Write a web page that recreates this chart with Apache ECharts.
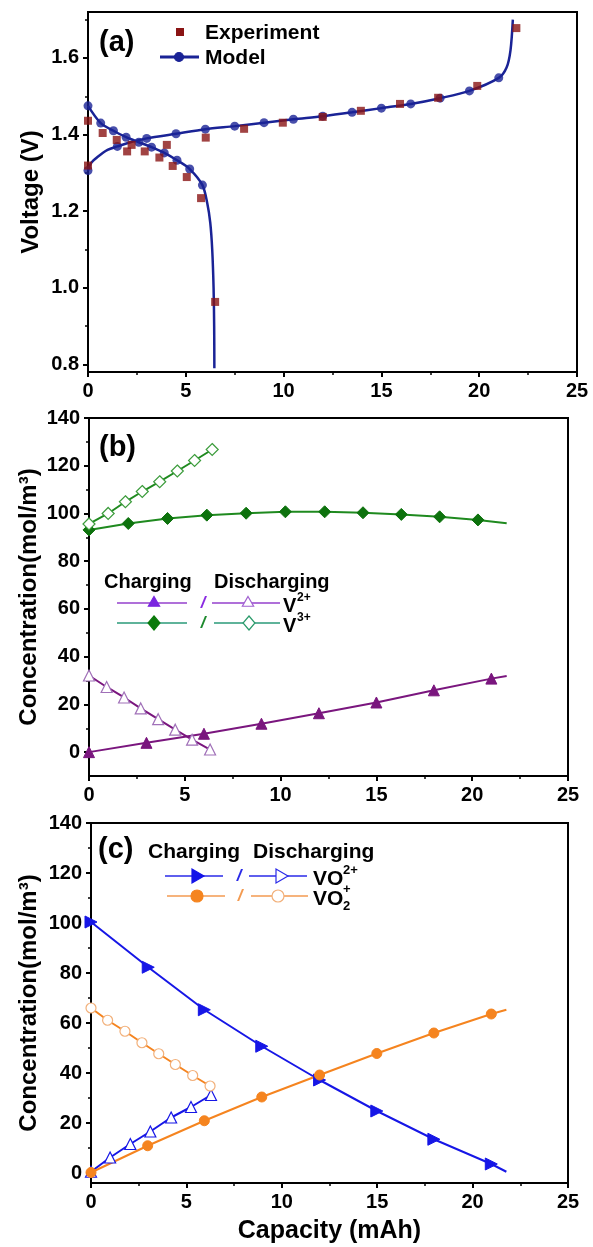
<!DOCTYPE html>
<html><head><meta charset="utf-8">
<script src="https://cdn.jsdelivr.net/npm/echarts@6/dist/echarts.min.js"></script>
<style>html,body{margin:0;padding:0;background:#fff}#c{width:593px;height:1247px}</style>
</head><body><div id="c"></div>
<script>
// ---------- Panel (a): voltage ----------
const expX = [0, 0, 0.75, 1.47, 2.0, 2.23, 2.9, 3.65, 4.03, 4.33, 5.05, 5.78, 6.5, 6.02, 7.98, 9.96, 12.0, 13.95, 15.95, 17.9, 19.9, 21.9];
const expV = [1.436, 1.319, 1.404, 1.386, 1.356, 1.373, 1.356, 1.34, 1.373, 1.318, 1.289, 1.234, 0.963, 1.392, 1.415, 1.431, 1.446, 1.462, 1.48, 1.496, 1.527, 1.678];
const modelChgCurveX = [0, 0.15, 0.5, 1.0, 1.5, 2.25, 3, 4.5, 6, 7.5, 9, 10.5, 12, 13.5, 15, 16.5, 18, 19.5, 21, 21.4, 21.6, 21.72];
const modelChgCurveV = [1.306, 1.325, 1.342, 1.36, 1.369, 1.381, 1.39, 1.402, 1.414, 1.422, 1.431, 1.44, 1.448, 1.458, 1.469, 1.48, 1.495, 1.514, 1.548, 1.575, 1.62, 1.70];
const modelChgMarkX = [0, 1.5, 3, 4.5, 6, 7.5, 9, 10.5, 12, 13.5, 15, 16.5, 18, 19.5, 21];
const modelChgMarkV = [1.306, 1.369, 1.39, 1.402, 1.414, 1.422, 1.431, 1.44, 1.448, 1.458, 1.469, 1.48, 1.495, 1.514, 1.548];
const modelDisCurveX = [0, 0.65, 1.3, 1.95, 2.6, 3.25, 3.9, 4.55, 5.2, 5.85, 6.1, 6.25, 6.35, 6.42, 6.45, 6.46];
const modelDisCurveV = [1.475, 1.43, 1.41, 1.393, 1.38, 1.367, 1.352, 1.333, 1.31, 1.268, 1.22, 1.17, 1.1, 1.0, 0.9, 0.79];
const modelDisMarkX = [0, 0.65, 1.3, 1.95, 2.6, 3.25, 3.9, 4.55, 5.2, 5.85];
const modelDisMarkV = [1.475, 1.43, 1.41, 1.393, 1.38, 1.367, 1.352, 1.333, 1.31, 1.268];
const voltTicks = [0.8, 1.0, 1.2, 1.4, 1.6];
const voltMinor = [0.9, 1.1, 1.3, 1.5, 1.7];

// ---------- Panel (b): V2+ / V3+ ----------
const v2ChgX = [0, 3, 6, 9, 12, 15, 18, 21];
const v2ChgY = [0, 3.9, 7.7, 11.9, 16.3, 20.8, 25.9, 30.8];
const v2ChgEnd = [21.8, 31.9];
const v2DisX = [0, 0.92, 1.83, 2.7, 3.61, 4.5, 5.38, 6.32];
const v2DisY = [32.1, 27.3, 22.9, 18.3, 13.8, 9.4, 5.2, 1.1];
const v3ChgX = [0, 2.05, 4.1, 6.15, 8.2, 10.25, 12.3, 14.3, 16.3, 18.3, 20.3];
const v3ChgY = [93.1, 95.8, 97.9, 99.3, 100.1, 100.7, 100.7, 100.3, 99.6, 98.6, 97.3];
const v3ChgEnd = [21.8, 95.9];
const v3DisX = [0, 1.0, 1.9, 2.78, 3.69, 4.61, 5.51, 6.43];
const v3DisY = [95.6, 100.0, 104.9, 109.2, 113.3, 117.8, 122.2, 126.8];

// ---------- Panel (c): VO2+ / VO2+ ----------
const vo2ChgX = [0, 3, 5.94, 8.95, 11.98, 14.98, 17.97, 20.98];
const vo2ChgY = [100.4, 82.3, 65.3, 50.7, 37.2, 24.8, 13.5, 3.6];
const vo2ChgEnd = [21.77, 0.5];
const vo2DisX = [0, 1.0, 2.06, 3.11, 4.2, 5.24, 6.29];
const vo2DisY = [0.5, 6.2, 11.6, 16.6, 22.2, 26.4, 31.2];
const vo2pChgX = [0, 2.97, 5.94, 8.95, 11.98, 14.98, 17.97, 20.98];
const vo2pChgY = [0.2, 10.9, 20.9, 30.4, 39.2, 47.8, 56.0, 63.6];
const vo2pChgEnd = [21.77, 65.3];
const vo2pDisX = [0, 0.87, 1.78, 2.67, 3.55, 4.42, 5.33, 6.24];
const vo2pDisY = [66.0, 61.1, 56.7, 52.1, 47.7, 43.4, 39.0, 34.8];

const concTicks = [0, 20, 40, 60, 80, 100, 120, 140];
const concMinor = [10, 30, 50, 70, 90, 110, 130];
const capTicksInterval = 5;

// ---------- styling ----------
const FF = '"Liberation Sans", Arial, Helvetica, sans-serif';
const pts = (xs, ys) => xs.map((x, i) => [x, ys[i]]);
const withEnd = (xs, ys, end) => pts(xs, ys).concat([{ value: end, symbol: 'none' }]);

const chart = echarts.init(document.getElementById('c'), null, { renderer: 'canvas' });

const grids = [
  { left: 88, top: 12, width: 489, height: 360 },
  { left: 89, top: 418, width: 479, height: 358 },
  { left: 91, top: 823, width: 477, height: 360 }
].map(g => Object.assign(g, { show: true, borderColor: '#000', borderWidth: 2, backgroundColor: 'transparent', containLabel: false, outerBoundsMode: 'none' }));

const labelStyle = { fontSize: 20, fontWeight: 'bold', color: '#000', fontFamily: FF };
function xAx(gi, name) {
  return {
    type: 'value', gridIndex: gi, min: 0, max: 25, interval: capTicksInterval,
    axisLine: { show: true, onZero: false, lineStyle: { color: '#000', width: 2 } },
    axisTick: { show: true, length: 5, lineStyle: { color: '#000', width: 2 } },
    minorTick: { show: true, splitNumber: 2, length: 3, lineStyle: { color: '#000', width: 1.5 } },
    splitLine: { show: false }, minorSplitLine: { show: false },
    axisLabel: Object.assign({ margin: 9 }, labelStyle),
    name: name || '', nameLocation: 'middle', nameGap: 36, nameMoveOverlap: false,
    nameTextStyle: { fontSize: 25, fontWeight: 'bold', color: '#000', fontFamily: FF }
  };
}
function yAx(gi, min, max, ticks, fmt, name, gap) {
  return {
    type: 'value', gridIndex: gi, min: min, max: max, position: 'left',
    axisLine: { show: true, onZero: false, lineStyle: { color: '#000', width: 2 } },
    axisTick: { show: true, length: 5, customValues: ticks, lineStyle: { color: '#000', width: 2 } },
    splitLine: { show: false },
    axisLabel: Object.assign({ margin: 9, customValues: ticks, formatter: fmt }, labelStyle),
    name: name, nameLocation: 'middle', nameRotate: 90, nameGap: gap, nameMoveOverlap: false,
    nameTextStyle: { fontSize: 24, fontWeight: 'bold', color: '#000', fontFamily: FF }
  };
}
function yMinor(gi, min, max, ticks) {
  return {
    type: 'value', gridIndex: gi, min: min, max: max, position: 'left',
    axisLine: { show: false }, splitLine: { show: false },
    axisLabel: { show: false },
    axisTick: { show: true, length: 3, customValues: ticks, lineStyle: { color: '#000', width: 1.5 } }
  };
}

const xAxes = [xAx(0), xAx(1), xAx(2, 'Capacity (mAh)')];
const yAxes = [
  yAx(0, 0.78, 1.72, voltTicks, v => v.toFixed(1), 'Voltage (V)', 45),
  yAx(1, -10, 140, concTicks, v => String(v), 'Concentration(mol/m³)', 48),
  yAx(2, -4, 140, concTicks, v => String(v), 'Concentration(mol/m³)', 50),
  yMinor(0, 0.78, 1.72, voltMinor),
  yMinor(1, -10, 140, concMinor),
  yMinor(2, -4, 140, concMinor)
];

const C = {
  model: '#1a2396', exp: '#8a1414',
  v2: '#7a167e', v2h: '#a070b8',
  v3: '#1f8a1f', v3f: '#0d720d', v3h: '#3c9c3c',
  blue: '#1616e6', orange: '#f5841f', orangeH: '#f2b07a'
};

function lineS(xi, data, color, symbol, size, filled, hollowColor, rot) {
  return {
    type: 'line', xAxisIndex: xi, yAxisIndex: xi, data: data, smooth: false,
    symbol: symbol, symbolSize: size, symbolRotate: rot || 0, showSymbol: true,
    lineStyle: { color: color, width: 2 },
    itemStyle: filled ? { color: color, borderColor: color, borderWidth: 1 } : { color: '#fff', borderColor: hollowColor, borderWidth: 1.2 },
    z: 3, animation: false, silent: true
  };
}

const series = [
  // (a)
  { type: 'line', xAxisIndex: 0, yAxisIndex: 0, data: pts(modelChgCurveX, modelChgCurveV), smooth: 0.3, showSymbol: false, symbol: 'none', lineStyle: { color: C.model, width: 2.5 }, z: 2, animation: false },
  { type: 'line', xAxisIndex: 0, yAxisIndex: 0, data: pts(modelDisCurveX, modelDisCurveV), smooth: 0.3, showSymbol: false, symbol: 'none', lineStyle: { color: C.model, width: 2.5 }, z: 2, animation: false },
  { type: 'scatter', xAxisIndex: 0, yAxisIndex: 0, data: pts(modelChgMarkX, modelChgMarkV), symbol: 'circle', symbolSize: 9, itemStyle: { color: C.model }, z: 3, animation: false },
  { type: 'scatter', xAxisIndex: 0, yAxisIndex: 0, data: pts(modelDisMarkX, modelDisMarkV), symbol: 'circle', symbolSize: 9, itemStyle: { color: C.model }, z: 3, animation: false },
  { type: 'scatter', xAxisIndex: 0, yAxisIndex: 0, data: pts(expX, expV), symbol: 'rect', symbolSize: 8, itemStyle: { color: C.exp }, z: 4, animation: false },
  // (b)
  lineS(1, withEnd(v2ChgX, v2ChgY, v2ChgEnd), C.v2, 'triangle', 11, true),
  lineS(1, pts(v2DisX, v2DisY), C.v2, 'triangle', 11, false, C.v2h),
  lineS(1, withEnd(v3ChgX, v3ChgY, v3ChgEnd), C.v3, 'diamond', 12, true),
  lineS(1, pts(v3DisX, v3DisY), C.v3, 'diamond', 12, false, C.v3h),
  // (c)
  lineS(2, withEnd(vo2ChgX, vo2ChgY, vo2ChgEnd), C.blue, 'triangle', 12, true, null, -90),
  lineS(2, pts(vo2DisX, vo2DisY), C.blue, 'triangle', 11, false, C.blue),
  lineS(2, pts(vo2pDisX, vo2pDisY), C.orange, 'circle', 10, false, C.orangeH),
  lineS(2, withEnd(vo2pChgX, vo2pChgY, vo2pChgEnd), C.orange, 'circle', 10, true)
];
series[7].itemStyle.color = C.v3f; series[7].itemStyle.borderColor = C.v3f;

// ---------- legends (graphic) ----------
function T(x, y, s, size, color, extra) {
  return { type: 'text', x: x, y: y, z: 100, silent: true,
    style: Object.assign({ text: s, fontSize: size, fontWeight: 'bold', fontFamily: FF, fill: color || '#000',
      align: 'left', verticalAlign: 'middle', textAlign: 'left', textVerticalAlign: 'middle' }, extra || {}) };
}
function L(x1, x2, y, color, w) {
  return { type: 'line', z: 100, silent: true, shape: { x1: x1, y1: y, x2: x2, y2: y }, style: { stroke: color, lineWidth: w || 1.5 } };
}
function tri(cx, cy, r, fill, stroke, dir) {
  let p = dir === 'right'
    ? [[cx + r, cy], [cx - 0.5 * r, cy - 0.866 * r], [cx - 0.5 * r, cy + 0.866 * r]]
    : [[cx, cy - r], [cx + 0.866 * r, cy + 0.5 * r], [cx - 0.866 * r, cy + 0.5 * r]];
  return { type: 'polygon', z: 101, silent: true, shape: { points: p }, style: { fill: fill, stroke: stroke, lineWidth: 1.2 } };
}
function dia(cx, cy, r, fill, stroke) {
  return { type: 'polygon', z: 101, silent: true, shape: { points: [[cx, cy - r], [cx + r * 0.85, cy], [cx, cy + r], [cx - r * 0.85, cy]] }, style: { fill: fill, stroke: stroke, lineWidth: 1.2 } };
}
function circ(cx, cy, r, fill, stroke) {
  return { type: 'circle', z: 101, silent: true, shape: { cx: cx, cy: cy, r: r }, style: { fill: fill, stroke: stroke, lineWidth: 1.2 } };
}
function slash(x, y, color) { return T(x, y, '/', 17, color, { fontStyle: 'italic', align: 'center', textAlign: 'center' }); }

const graphics = [
  // (a)
  T(99, 43, '(a)', 29),
  { type: 'rect', z: 101, silent: true, shape: { x: 176, y: 28, width: 8, height: 8 }, style: { fill: C.exp } },
  T(205, 33, 'Experiment', 21),
  L(160, 199, 57, C.model, 3), circ(179, 57, 4.5, C.model, C.model),
  T(205, 58, 'Model', 21),
  // (b)
  T(99, 448, '(b)', 29),
  T(104, 582, 'Charging', 20), T(214, 582, 'Discharging', 20),
  L(117, 187, 603, '#9440cc'), tri(154, 603, 6.5, '#7a26e0', '#7a26e0'),
  slash(203, 603, '#8a2be2'),
  L(212, 280, 603, '#9440cc'), tri(248, 603, 6.5, '#fff', '#a060d0'),
  T(283, 606, 'V', 20), T(297, 598, '2+', 12),
  L(117, 187, 623, '#2a9a78'), dia(154, 623, 7, '#0b7a0b', '#0b7a0b'),
  slash(203, 623, '#1e8a2e'),
  L(214, 280, 623, '#2a9a78'), dia(249, 623, 7, '#fff', '#2a9a6a'),
  T(283, 626, 'V', 20), T(297, 618, '3+', 12),
  // (c)
  T(98, 850, '(c)', 29),
  T(148, 852, 'Charging', 21), T(253, 852, 'Discharging', 21),
  L(165, 223, 876, '#2a2ae8'), tri(196, 876, 8, '#1414e8', '#1414e8', 'right'),
  slash(239, 876, '#2a2ae8'),
  L(249, 307, 876, '#2a2ae8'), tri(280, 876, 8, '#fff', '#2a2ae8', 'right'),
  T(313, 879, 'VO', 21), T(343, 870, '2+', 13),
  L(167, 225, 896, '#f39a50'), circ(197, 896, 6, '#f5841f', '#f5841f'),
  slash(240, 896, '#f39a50'),
  L(251, 308, 896, '#f39a50'), circ(278, 896, 6, '#fff', '#f2b07a'),
  T(313, 899, 'VO', 21), T(343, 906, '2', 13), T(343, 889, '+', 13)
];

chart.setOption({
  animation: false,
  backgroundColor: '#fff',
  textStyle: { fontFamily: FF },
  grid: grids,
  xAxis: xAxes,
  yAxis: yAxes,
  series: series,
  graphic: { elements: graphics }
});
</script></body></html>
